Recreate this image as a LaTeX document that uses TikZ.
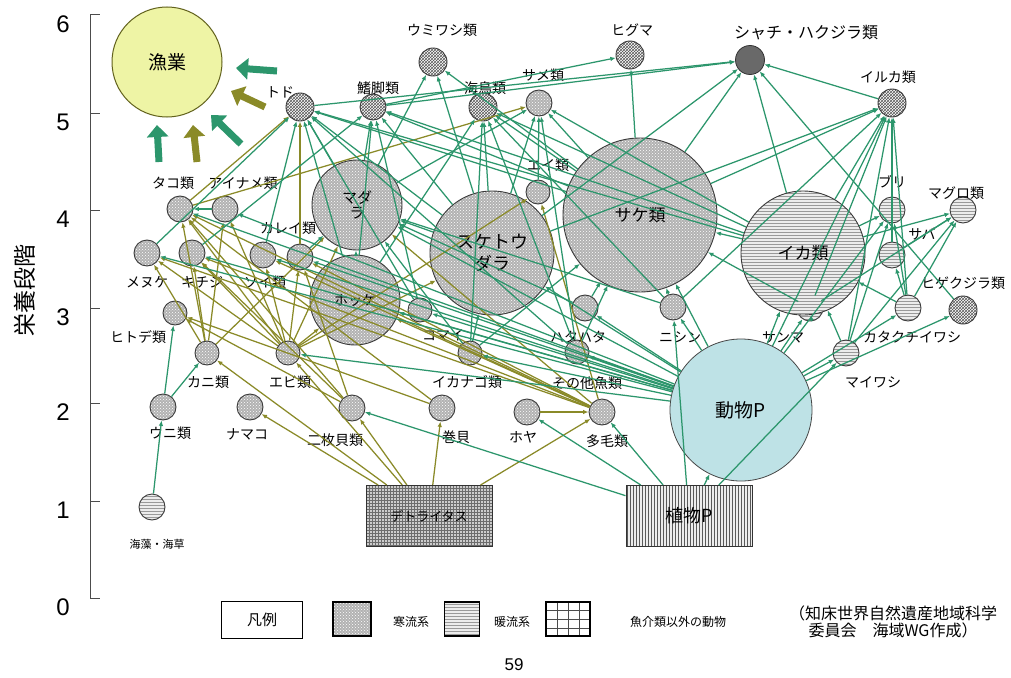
\documentclass[tikz,border=0pt]{standalone}
\usepackage{fontspec}
\setmainfont{Noto Sans CJK JP}
\newfontfamily\arial{Liberation Sans}
\usetikzlibrary{patterns,arrows.meta}
\definecolor{grn}{RGB}{44,150,108}
\definecolor{olv}{RGB}{138,138,40}
\definecolor{fishery}{RGB}{238,244,165}
\definecolor{zooc}{RGB}{190,226,230}
\definecolor{orca}{RGB}{105,105,105}
\newcommand{\fsz}[1]{\fontsize{#1}{#1}\selectfont}

\begin{document}
\begin{tikzpicture}[x=1pt,y=-1pt]
\tikzstyle{cold}=[draw=gray!45!black,line width=0.9pt,shape=circle,inner sep=0pt,preaction={fill=gray!60},pattern=crosshatch dots,pattern color=white]
\tikzstyle{warm}=[draw=gray!45!black,line width=0.9pt,shape=circle,inner sep=0pt,preaction={fill=gray!15},pattern=horizontal lines,pattern color=gray!80]
\tikzstyle{other}=[draw=gray!45!black,line width=0.9pt,shape=circle,inner sep=0pt,preaction={fill=white},pattern=crosshatch,pattern color=gray!70!black]
\tikzstyle{lbl}=[inner sep=0pt,font=\fsz{14}]
\tikzstyle{big}=[font=\fsz{17}]
\tikzstyle{g}=[draw=grn,line width=1.25pt,-{Latex[length=5.5pt,width=4.5pt]}]
\tikzstyle{o}=[draw=olv,line width=1.25pt,-{Latex[length=5.5pt,width=4.5pt]}]
\tikzstyle{bigg}=[draw=grn,line width=7pt,-{Triangle[length=12pt,width=21pt]}]
\tikzstyle{bigo}=[draw=olv,line width=7pt,-{Triangle[length=12pt,width=21pt]}]
\useasboundingbox[fill=white] (0,0) rectangle (1011,677);

% axis
\draw[gray!60!black,line width=1pt] (90,15) -- (90,598);
\foreach \v/\yy in {6/15,5/113,4/210,3/308,2/403,1/501,0/598}{
  \draw[gray!60!black,line width=1pt] (90,\yy) -- (100,\yy);
  \path (63,\yy+9) node[font=\arial\fsz{24}](t\v){\v};
}
\path (25,290) node[rotate=90,font=\fsz{23}](ax){栄養段階};

% nodes
\path (167,62) node[circle,draw=olv!70!black,line width=1pt,fill=fishery,minimum size=110pt,font=\fsz{19}](fish){漁業};
\path (300,107) node[other,minimum size=28pt](todo){};
\path (373,107) node[other,minimum size=26pt](hire){};
\path (433,62) node[other,minimum size=28pt](umiwashi){};
\path (483,107) node[other,minimum size=28pt](umidori){};
\path (539,103) node[cold,minimum size=26pt](same){};
\path (630,55) node[other,minimum size=28pt](higuma){};
\path (750,60) node[circle,draw=gray!40!black,line width=0.8pt,fill=orca,minimum size=29pt](shachi){};
\path (892,103) node[other,minimum size=28pt](iruka){};
\path (538,192) node[cold,minimum size=24pt](ei){};
\path (640,215) node[cold,minimum size=154pt,big](sake){サケ類};
\path (492,253) node[cold,minimum size=124pt,align=center,font=\fsz{18}](sukeso){スケトウ\\[4pt]ダラ};
\path (357,205) node[cold,minimum size=90pt,align=center,font=\fsz{15}](madara){マダ\\ラ};
\path (355,300) node[cold,minimum size=90pt,font=\fsz{14}](hokke){ホッケ};
\path (180,209) node[cold,minimum size=26pt](tako){};
\path (225,209) node[cold,minimum size=26pt](ainame){};
\path (300,257) node[cold,minimum size=26pt](karei){};
\path (147,253) node[cold,minimum size=26pt](menuke){};
\path (192,253) node[cold,minimum size=26pt](kichiji){};
\path (263,255) node[cold,minimum size=26pt](soi){};
\path (175,313) node[cold,minimum size=24pt](hitode){};
\path (207,353) node[cold,minimum size=24pt](kani){};
\path (288,353) node[cold,minimum size=24pt](ebi){};
\path (163,407) node[cold,minimum size=26pt](uni){};
\path (250,407) node[cold,minimum size=26pt](namako){};
\path (352,408) node[cold,minimum size=26pt](nimaigai){};
\path (442,408) node[cold,minimum size=26pt](makigai){};
\path (527,412) node[cold,minimum size=26pt](hoya){};
\path (602,412) node[cold,minimum size=26pt](tamou){};
\path (420,310) node[cold,minimum size=24pt](komai){};
\path (470,353) node[cold,minimum size=24pt](ikanago){};
\path (577,352) node[cold,minimum size=24pt](sonota){};
\path (585,308) node[cold,minimum size=26pt](hatahata){};
\path (673,307) node[cold,minimum size=26pt](nishin){};
\path (810,308) node[warm,minimum size=26pt](sanma){};
\path (908,308) node[warm,minimum size=26pt](katakuchi){};
\path (846,353) node[warm,minimum size=26pt](maiwashi){};
\path (963,310) node[other,minimum size=28pt](higekujira){};
\path (892,210) node[warm,minimum size=26pt](buri){};
\path (963,210) node[warm,minimum size=26pt](maguro){};
\path (892,255) node[warm,minimum size=26pt](saba){};
\path (803,253) node[warm,minimum size=124pt,big](ika){イカ類};
\path (741,410) node[circle,draw=gray!55!black,line width=0.8pt,fill=zooc,minimum size=142pt,font=\fsz{19}](zoo){動物P};
\path (152,507) node[warm,minimum size=26pt](kaisou){};
\path (429,516) node[draw=gray!40!black,line width=1pt,minimum width=126pt,minimum height=61pt,preaction={fill=gray!40},pattern=grid,pattern color=gray!85!black,font=\fsz{13}](detr){デトライタス};
\path (689,516) node[draw=gray!40!black,line width=1pt,minimum width=126pt,minimum height=61pt,preaction={fill=gray!15},pattern=vertical lines,pattern color=gray!70!black,font=\fsz{18}](phyto){植物P};

% labels
\path (280,92) node[lbl](todoL){トド};
\path (378,88) node[lbl](hireL){鰭脚類};
\path (442,30) node[lbl](umiwashiL){ウミワシ類};
\path (485,88) node[lbl](umidoriL){海鳥類};
\path (543,75) node[lbl](sameL){サメ類};
\path (632,30) node[lbl](higumaL){ヒグマ};
\path (806,33) node[lbl,font=\fsz{16}](shachiL){シャチ・ハクジラ類};
\path (888,77) node[lbl](irukaL){イルカ類};
\path (548,165) node[lbl](eiL){エイ類};
\path (892,182) node[lbl](buriL){ブリ};
\path (956,193) node[lbl](maguroL){マグロ類};
\path (922,234) node[lbl](sabaL){サバ};
\path (963,283) node[lbl](higekujiraL){ヒゲクジラ類};
\path (912,337) node[lbl](katakuchiL){カタクチイワシ};
\path (783,337) node[lbl](sanmaL){サンマ};
\path (873,382) node[lbl](maiwashiL){マイワシ};
\path (680,337) node[lbl](nishinL){ニシン};
\path (578,337) node[lbl](hatahataL){ハタハタ};
\path (587,383) node[lbl](sonotaL){その他魚類};
\path (467,382) node[lbl](ikanagoL){イカナゴ類};
\path (443,335) node[lbl](komaiL){コマイ};
\path (173,183) node[lbl](takoL){タコ類};
\path (243,183) node[lbl](ainameL){アイナメ類};
\path (288,228) node[lbl](kareiL){カレイ類};
\path (147,282) node[lbl](menukeL){メヌケ};
\path (202,282) node[lbl](kichijiL){キチジ};
\path (265,282) node[lbl](soiL){ソイ類};
\path (138,337) node[lbl](hitodeL){ヒトデ類};
\path (208,382) node[lbl](kaniL){カニ類};
\path (290,382) node[lbl](ebiL){エビ類};
\path (170,433) node[lbl](uniL){ウニ類};
\path (247,434) node[lbl](namakoL){ナマコ};
\path (335,440) node[lbl](nimaigaiL){二枚貝類};
\path (456,437) node[lbl](makigaiL){巻貝};
\path (523,437) node[lbl](hoyaL){ホヤ};
\path (607,441) node[lbl](tamouL){多毛類};
\path (157,544) node[lbl,font=\fsz{11}](kaisouL){海藻・海草};

% big arrows to fishery
\coordinate (a1) at (277,71); \coordinate (h1) at (236,68);
\coordinate (a2) at (265,107); \coordinate (h2) at (231,91);
\coordinate (a3) at (241,144); \coordinate (h3) at (211,115);
\coordinate (a4) at (197,162); \coordinate (h4) at (193,125);
\coordinate (a5) at (159,162); \coordinate (h5) at (157,125);
\draw[bigg] (a1) -- (h1);
\draw[bigo] (a2) -- (h2);
\draw[bigg] (a3) -- (h3);
\draw[bigo] (a4) -- (h4);
\draw[bigg] (a5) -- (h5);

% detritus and benthos
\draw[o] (detr) -- (nimaigai);
\draw[o] (detr) -- (makigai);
\draw[o] (detr) -- (namako);
\draw[o] (detr) -- (tamou);
\draw[o] (detr) -- (ebi);
\draw[o] (detr) -- (kani);
\draw[o] (ebi) -- (tako);
\draw[o] (ebi) -- (menuke);
\draw[o] (ebi) -- (kichiji);
\draw[o] (ebi) -- (karei);
\draw[o] (ebi) -- (madara);
\draw[o] (ebi) -- (hokke);
\draw[o] (ebi) -- (sukeso);
\draw[o] (ebi) -- (ainame);
\draw[o] (ebi) -- (soi);
\draw[o] (kani) -- (tako);
\draw[o] (kani) -- (menuke);
\draw[o] (kani) -- (ainame);
\draw[o] (kani) -- (kichiji);
\draw[o] (kani) -- (madara);
\draw[o] (nimaigai) -- (tako);
\draw[o] (nimaigai) -- (karei);
\draw[o] (nimaigai) -- (hitode);
\draw[o] (nimaigai) -- (kichiji);
\draw[o] (makigai) -- (tako);
\draw[o] (makigai) -- (hitode);
\draw[o] (tamou) -- (karei);
\draw[o] (tamou) -- (kichiji);
\draw[o] (tamou) -- (hokke);
\draw[o] (tamou) -- (madara);
\draw[o] (tamou) -- (tako);
\draw[o] (tamou) -- (soi);
\draw[o] (tamou) -- (menuke);
\draw[o] (hoya) -- (tamou);
\draw[o] (tako) -- (todo);
\draw[o] (tako) -- (same);
\draw[o] (karei) -- (todo);
\draw[o] (ebi) -- (ei);
\draw[o] (tamou) -- (ei);

% plants
\draw[g] (kaisou) -- (uni);
\draw[g] (uni) -- (hitode);
\draw[g] (uni) -- (kani);
\draw[g] (phyto) -- (zoo);
\draw[g] (phyto) -- (nimaigai);
\draw[g] (phyto) -- (hoya);
\draw[g] (phyto) -- (tamou);
\draw[g] (phyto) -- (nishin);
\draw[g] (phyto) -- (maiwashi);

% zooplankton
\draw[g] (zoo) -- (sonota);
\draw[g] (zoo) -- (ikanago);
\draw[g] (zoo) -- (komai);
\draw[g] (zoo) -- (hatahata);
\draw[g] (zoo) -- (nishin);
\draw[g] (zoo) -- (sanma);
\draw[g] (zoo) -- (maiwashi);
\draw[g] (zoo) -- (katakuchi);
\draw[g] (zoo) -- (higekujira);
\draw[g] (zoo) -- (sukeso);
\draw[g] (zoo) -- (sake);
\draw[g] (zoo) -- (ika);
\draw[g] (zoo) -- (hokke);
\draw[g] (zoo) -- (karei);
\draw[g] (zoo) -- (menuke);
\draw[g] (zoo) -- (kichiji);
\draw[g] (zoo) -- (tako);
\draw[g] (zoo) -- (ainame);
\draw[g] (zoo) -- (madara);
\draw[g] (zoo) -- (soi);
\draw[g] (zoo) -- (ebi);
\draw[g] (zoo) -- (iruka);
\draw[g] (zoo) -- (buri);

% fish
\draw[g] (sake) -- (todo);
\draw[g] (sake) -- (hire);
\draw[g] (sake) -- (umiwashi);
\draw[g] (sake) -- (umidori);
\draw[g] (sake) -- (same);
\draw[g] (sake) -- (higuma);
\draw[g] (sake) -- (shachi);
\draw[g] (sake) -- (iruka);
\draw[g] (sukeso) -- (todo);
\draw[g] (sukeso) -- (hire);
\draw[g] (sukeso) -- (umiwashi);
\draw[g] (sukeso) -- (umidori);
\draw[g] (sukeso) -- (same);
\draw[g] (sukeso) -- (shachi);
\draw[g] (sukeso) -- (iruka);
\draw[g] (sukeso) -- (madara);
\draw[g] (madara) -- (todo);
\draw[g] (madara) -- (hire);
\draw[g] (madara) -- (umiwashi);
\draw[g] (madara) -- (same);
\draw[g] (hokke) -- (todo);
\draw[g] (hokke) -- (hire);
\draw[g] (hokke) -- (umidori);
\draw[g] (hokke) -- (madara);
\draw[g] (ika) -- (shachi);
\draw[g] (ika) -- (iruka);
\draw[g] (ika) -- (same);
\draw[g] (ika) -- (hire);
\draw[g] (ika) -- (umidori);
\draw[g] (ika) -- (sake);
\draw[g] (ika) -- (buri);
\draw[g] (ika) -- (maguro);
\draw[g] (ika) -- (todo);
\draw[g] (sanma) -- (iruka);
\draw[g] (sanma) -- (maguro);
\draw[g] (sanma) -- (ika);
\draw[g] (sanma) -- (sake);
\draw[g] (maiwashi) -- (buri);
\draw[g] (maiwashi) -- (maguro);
\draw[g] (maiwashi) -- (iruka);
\draw[g] (maiwashi) -- (ika);
\draw[g] (katakuchi) -- (buri);
\draw[g] (katakuchi) -- (maguro);
\draw[g] (katakuchi) -- (saba);
\draw[g] (katakuchi) -- (iruka);
\draw[g] (katakuchi) -- (ika);
\draw[g] (saba) -- (buri);
\draw[g] (saba) -- (maguro);
\draw[g] (saba) -- (iruka);
\draw[g] (iruka) -- (shachi);
\draw[g] (todo) -- (shachi);
\draw[g] (hire) -- (shachi);
\draw[g] (hire) -- (higuma);
\draw[g] (higekujira) -- (shachi);
\draw[g] (nishin) -- (sake);
\draw[g] (nishin) -- (iruka);
\draw[g] (nishin) -- (madara);
\draw[g] (nishin) -- (umidori);
\draw[g] (hatahata) -- (sake);
\draw[g] (hatahata) -- (madara);
\draw[g] (ikanago) -- (sake);
\draw[g] (ikanago) -- (umidori);
\draw[g] (ikanago) -- (madara);
\draw[g] (ikanago) -- (sukeso);
\draw[g] (sonota) -- (todo);
\draw[g] (sonota) -- (umidori);
\draw[g] (sonota) -- (same);
\draw[g] (sonota) -- (sake);
\draw[g] (komai) -- (todo);
\draw[g] (komai) -- (hire);
\draw[g] (karei) -- (madara);
\draw[g] (ei) -- (same);
\draw[g] (ainame) -- (tako);
\draw[g] (menuke) -- (todo);
\draw[g] (kichiji) -- (hire);
\draw[g] (soi) -- (todo);

% legend
\path (262,620) node[draw,line width=1.6pt,minimum width=81pt,minimum height=37pt,font=\fsz{15}](leg){凡例};
\path (352,619) node[draw,line width=1.6pt,minimum width=38pt,minimum height=34pt,preaction={fill=gray!60},pattern=crosshatch dots,pattern color=white](legc){};
\path (411,622) node[lbl,font=\fsz{12}](legcL){寒流系};
\path (462,619) node[draw,line width=1.6pt,minimum width=35pt,minimum height=34pt,preaction={fill=gray!15},pattern=horizontal lines,pattern color=gray!80](legw){};
\path (512,622) node[lbl,font=\fsz{12}](legwL){暖流系};
\path (568,619) node[draw,line width=1.6pt,minimum width=44pt,minimum height=34pt](lego){};
\foreach \gx in {557,568,579} \draw[gray!60!black] (\gx,603) -- (\gx,635);
\foreach \gy in {610,619,628} \draw[gray!60!black] (547,\gy) -- (589,\gy);
\path (678,622) node[lbl,font=\fsz{12}](legoL){魚介類以外の動物};
\path (893,622) node[align=center,font=\fsz{16},inner sep=0pt](credit){（知床世界自然遺産地域科学\\[1pt]委員会　海域WG作成）};
\path (514,665) node[font=\arial\fsz{17}](page){59};
\end{tikzpicture}
\end{document}
